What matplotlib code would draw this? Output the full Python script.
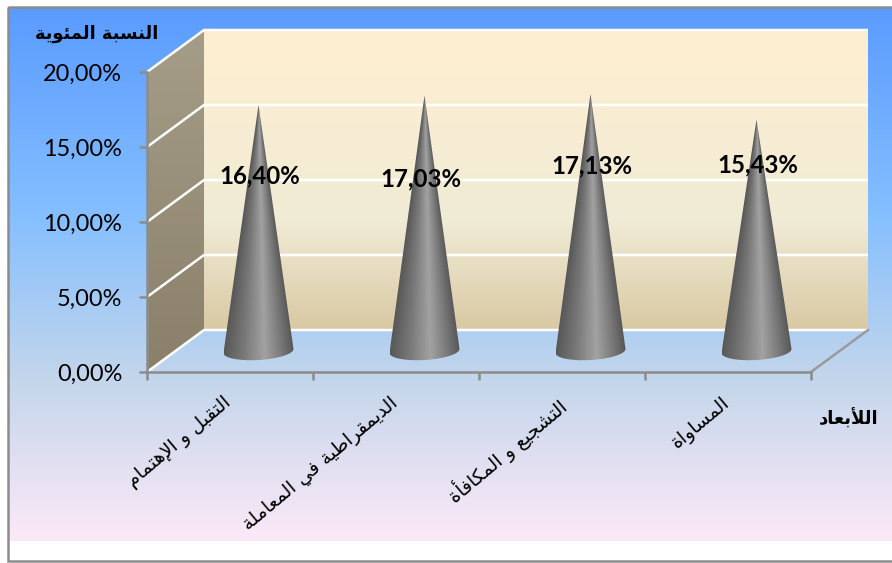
import numpy as np
import matplotlib
matplotlib.use("Agg")
import matplotlib.pyplot as plt
from matplotlib.colors import LinearSegmentedColormap, to_rgb
from matplotlib.patches import Polygon, Rectangle

categories = ["التقبل و الإهتمام", "الديمقراطية في المعاملة", "التشجيع و المكافأة", "المساواة"]
values = [16.40, 17.03, 17.13, 15.43]
value_labels = ["16,40%", "17,03%", "17,13%", "15,43%"]
y_ticks = [0, 5, 10, 15, 20]
y_tick_labels = ["0,00%", "5,00%", "10,00%", "15,00%", "20,00%"]
y_title = "النسبة المئوية"
x_title = "اللأبعاد"

# --- minimal Arabic shaping (matplotlib has no text shaper) ---
FORMS = {  # isolated, final, initial, medial
    'ء': (0xFE80,), 'آ': (0xFE81, 0xFE82), 'أ': (0xFE83, 0xFE84), 'ؤ': (0xFE85, 0xFE86),
    'إ': (0xFE87, 0xFE88), 'ئ': (0xFE89, 0xFE8A, 0xFE8B, 0xFE8C), 'ا': (0xFE8D, 0xFE8E),
    'ب': (0xFE8F, 0xFE90, 0xFE91, 0xFE92), 'ة': (0xFE93, 0xFE94), 'ت': (0xFE95, 0xFE96, 0xFE97, 0xFE98),
    'ج': (0xFE9D, 0xFE9E, 0xFE9F, 0xFEA0), 'د': (0xFEA9, 0xFEAA), 'ر': (0xFEAD, 0xFEAE),
    'س': (0xFEB1, 0xFEB2, 0xFEB3, 0xFEB4), 'ش': (0xFEB5, 0xFEB6, 0xFEB7, 0xFEB8),
    'ط': (0xFEC1, 0xFEC2, 0xFEC3, 0xFEC4), 'ع': (0xFEC9, 0xFECA, 0xFECB, 0xFECC),
    'ف': (0xFED1, 0xFED2, 0xFED3, 0xFED4), 'ق': (0xFED5, 0xFED6, 0xFED7, 0xFED8),
    'ك': (0xFED9, 0xFEDA, 0xFEDB, 0xFEDC), 'ل': (0xFEDD, 0xFEDE, 0xFEDF, 0xFEE0),
    'م': (0xFEE1, 0xFEE2, 0xFEE3, 0xFEE4), 'ن': (0xFEE5, 0xFEE6, 0xFEE7, 0xFEE8),
    'ه': (0xFEE9, 0xFEEA, 0xFEEB, 0xFEEC), 'و': (0xFEED, 0xFEEE), 'ي': (0xFEF1, 0xFEF2, 0xFEF3, 0xFEF4),
}
LAM_ALEF = {'آ': (0xFEF5, 0xFEF6), 'أ': (0xFEF7, 0xFEF8), 'إ': (0xFEF9, 0xFEFA), 'ا': (0xFEFB, 0xFEFC)}


def shape(text):
    out, prev_joins, i = [], False, 0
    while i < len(text):
        c = text[i]
        nxt = text[i + 1] if i + 1 < len(text) else ''
        if c not in FORMS:
            out.append(c); prev_joins = False; i += 1; continue
        if c == 'ل' and nxt in LAM_ALEF:
            out.append(chr(LAM_ALEF[nxt][1 if prev_joins else 0])); prev_joins = False; i += 2; continue
        f = FORMS[c]
        next_ok = nxt in FORMS and nxt != 'ء'
        if len(f) == 4:
            k = (3 if next_ok else 1) if prev_joins else (2 if next_ok else 0)
            prev_joins = next_ok
        else:
            k = 1 if prev_joins and len(f) > 1 else 0
            prev_joins = False
        out.append(chr(f[k])); i += 1
    return ''.join(reversed(out))


# --- layout, in pixels of the 892x563 canvas ---
W, H = 892, 563
PLOT_L, PLOT_R, PLOT_T, PLOT_B = 147, 811, 72, 372
DEPTH_X, DEPTH_Y = 57, 42
SANS = "Lato"
AR = "DejaVu Sans"


def hexgrad(stops):
    return LinearSegmentedColormap.from_list("g", [(p, to_rgb(c)) for p, c in stops])


fig = plt.figure(figsize=(W / 100, H / 100), dpi=100, facecolor="white")

bg = fig.add_axes([0, 0, 1, 1], zorder=0)
bg.set_xlim(0, W); bg.set_ylim(H, 0); bg.axis("off")
bg_cmap = hexgrad([(0, "#5A9BFF"), (0.39, "#85BFFF"), (0.7, "#C4D6EB"), (1, "#FCE9F8")])
bg.imshow(np.linspace(0, 1, 256)[:, None], extent=(9, W, 541, 7), cmap=bg_cmap, aspect="auto", zorder=0)
bg.set_xlim(0, W); bg.set_ylim(H, 0)
bg.add_patch(Rectangle((8, 6.5), W + 10, 554.5, fill=False, ec="#8C8C8C", lw=1.8, clip_on=False, zorder=1))

ax = fig.add_axes([PLOT_L / W, 1 - PLOT_B / H, (PLOT_R - PLOT_L) / W, (PLOT_B - PLOT_T) / H], zorder=1)
ax.patch.set_visible(False)
n = len(categories)
XLIM, YLIM = (0, n), (0, 20)
ux = (PLOT_R - PLOT_L) / n      # px per category
uy = (PLOT_B - PLOT_T) / 20     # px per percent
dx, dy = DEPTH_X / ux, DEPTH_Y / uy


def clipped_image(arr, extent, cmap, clip_xy, z, vmin=0, vmax=1):
    im = ax.imshow(arr, extent=extent, cmap=cmap, vmin=vmin, vmax=vmax, aspect="auto", zorder=z, origin="upper")
    poly = Polygon(clip_xy, closed=True, transform=ax.transData, fc="none", ec="none")
    im.set_clip_box(fig.bbox)
    im.set_clip_path(poly)
    return im


# back wall
wall_cmap = hexgrad([(0, "#FFEFD1"), (0.64, "#F0EBD5"), (1, "#D9C9A4")])
clipped_image(np.linspace(0, 1, 256)[:, None], (dx, n + dx, dy, 20 + dy), wall_cmap,
              [(dx, dy), (n + dx, dy), (n + dx, 20 + dy), (dx, 20 + dy)], 1)
# side wall
side_cmap = hexgrad([(0, "#A69D88"), (1, "#8A806A")])
clipped_image(np.linspace(0, 1, 256)[:, None], (0, dx, 0, 20 + dy), side_cmap,
              [(0, 0), (dx, dy), (dx, 20 + dy), (0, 20)], 1)

# gridlines on both walls
for t in y_ticks:
    ax.plot([0, dx, n + dx], [t, t + dy, t + dy], color="white", lw=1.8, clip_on=False, zorder=2,
            solid_capstyle="butt", solid_joinstyle="miter")
# right floor edge
ax.plot([n, n + dx], [0, dy], color="#9A9A9A", lw=1.8, clip_on=False, zorder=2)

# cones
cone_cmap = hexgrad([(0, "#585858"), (0.28, "#787878"), (0.58, "#A2A2A2"), (0.8, "#7C7C7C"), (1, "#585858")])
for i, v in enumerate(values):
    cx = i + 0.5 + dx / 2
    base = dy / 2
    top = v + dy / 2
    half = 35 / ux
    eh = 9 / uy
    tilt = 2 / uy
    t = np.linspace(np.pi, 2 * np.pi, 40)
    arc = np.c_[cx + half * np.cos(t), base + eh * np.sin(t) + tilt * np.cos(t)]
    outline = np.vstack([[(cx, top)], arc])
    ys = np.linspace(top, base - eh - tilt, 200)
    xs = np.linspace(cx - half, cx + half, 200)
    X, Y = np.meshgrid(xs, ys)
    hw = np.clip((top - Y) / (top - base), 0.004, 1.3) * half
    U = np.clip(((X - cx) / hw + 1) / 2, 0, 1)
    clipped_image(U, (cx - half, cx + half, base - eh - tilt, top), cone_cmap, outline, 3)

ax.set_xlim(*XLIM); ax.set_ylim(*YLIM)

# data labels
label_offsets_px = [(1, -71), (-4, -83), (1, -72), (1, -45.5)]
for i, (v, s) in enumerate(zip(values, value_labels)):
    ox, oy = label_offsets_px[i]
    ax.annotate(s, xy=(i + 0.5 + dx / 2, v + dy / 2), xytext=(ox * 0.72, oy * 0.72), textcoords="offset points",
                ha="center", va="center", fontsize=17.3, fontweight="bold", family=SANS, color="black",
                annotation_clip=False, zorder=5)

# axes
for s in ("top", "right"):
    ax.spines[s].set_visible(False)
for s in ("left", "bottom"):
    ax.spines[s].set_color("#8C8C8C"); ax.spines[s].set_linewidth(1.8); ax.spines[s].set_zorder(4)
ax.set_yticks(y_ticks, y_tick_labels, fontsize=16.9, family=SANS, color="black")
ax.set_xticks(range(n + 1), [""] * (n + 1))
ax.tick_params(axis="both", length=5.8, width=1.8, color="#8C8C8C", direction="out")
ax.tick_params(axis="y", pad=12)

# category labels
for i, c in enumerate(categories):
    ax.annotate(shape(c), xy=(i + 0.5, 0), xytext=(-5, -15), textcoords="offset points", rotation=40,
                rotation_mode="anchor", ha="right", va="top", fontsize=13.8, family=AR, color="black",
                annotation_clip=False, zorder=5)

fig.text(97 / W, 1 - 34 / H, shape(y_title), ha="center", va="center", fontsize=12.8, fontweight="bold", family=AR, zorder=5)
fig.text(849 / W, 1 - 419 / H, shape(x_title), ha="center", va="center", fontsize=13, fontweight="bold", family=AR, zorder=5)

fig.savefig("out.png", dpi=100, facecolor="white")
